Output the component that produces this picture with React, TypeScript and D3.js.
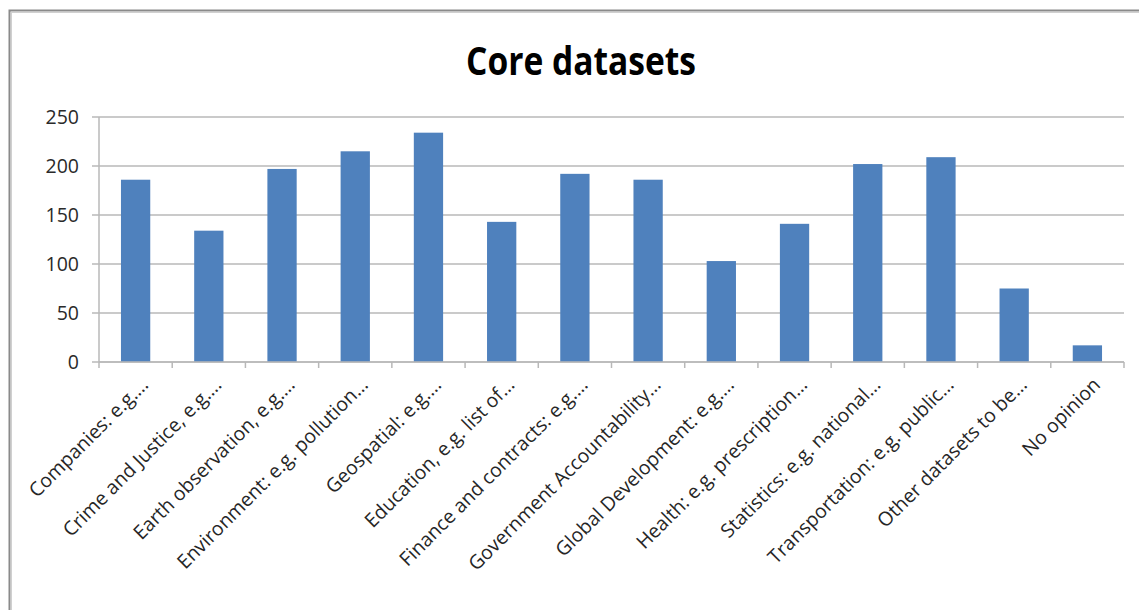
import React from "react";
import * as d3 from "d3";

const categories = [
  "Companies: e.g.…",
  "Crime and Justice, e.g.…",
  "Earth observation, e.g.…",
  "Environment: e.g. pollution…",
  "Geospatial: e.g.…",
  "Education, e.g. list of…",
  "Finance and contracts: e.g.…",
  "Government Accountability…",
  "Global Development: e.g.…",
  "Health: e.g. prescription…",
  "Statistics: e.g. national…",
  "Transportation: e.g. public…",
  "Other datasets to be…",
  "No opinion",
];
const values = [186, 134, 197, 215, 234, 143, 192, 186, 103, 141, 202, 209, 75, 17];
const yTicks = [0, 50, 100, 150, 200, 250];
const title = "Core datasets";

const W = 1139;
const H = 610;
const plot = { left: 99, right: 1124, top: 117, bottom: 362 };

export default function App() {
  const x = d3
    .scaleBand<string>()
    .domain(categories)
    .range([plot.left, plot.right])
    .paddingInner(0.6)
    .paddingOuter(0.3);
  const y = d3.scaleLinear().domain([0, 250]).range([plot.bottom, plot.top]);
  const bw = (plot.right - plot.left) / categories.length;
  const bandStart = (i: number) => plot.left + i * bw;
  const barW = x.bandwidth();

  return (
    <svg
      width={W}
      height={H}
      style={{ position: "absolute", left: 0, top: 0, background: "#fff" }}
    >
      <rect x={0} y={0} width={W} height={H} fill="#fff" />
      {/* frame */}
      <rect x={9.5} y={10.5} width={W + 20} height={H + 20} fill="none" stroke="#8a8a8a" strokeWidth={2} />
      <rect x={11.5} y={12.5} width={W + 20} height={H + 20} fill="none" stroke="#d0d0d0" strokeWidth={1} />

      <text
        x={581}
        y={75}
        textAnchor="middle"
        fontFamily="'Open Sans', sans-serif"
        fontWeight={700}
        fontSize={40}
        textLength={230}
        lengthAdjust="spacingAndGlyphs"
        fill="#000"
      >
        {title}
      </text>

      {/* gridlines + y ticks */}
      {yTicks.map((t) => (
        <g key={t}>
          <line x1={plot.left - 7} x2={plot.right} y1={y(t)} y2={y(t)} stroke="#b8b8b8" strokeWidth={1.5} />
          <text
            x={79}
            y={y(t)}
            dy="0.36em"
            textAnchor="end"
            fontFamily="'Open Sans', sans-serif"
            fontSize={19.5}
            fill="#2a2a2a"
          >
            {t}
          </text>
        </g>
      ))}
      {/* y axis */}
      <line x1={plot.left} x2={plot.left} y1={plot.top} y2={plot.bottom} stroke="#b8b8b8" strokeWidth={1.5} />

      {/* bars */}
      {values.map((v, i) => {
        const cx = bandStart(i) + bw / 2;
        return (
          <rect
            key={i}
            x={cx - barW / 2}
            y={y(v)}
            width={barW}
            height={y(0) - y(v)}
            fill="#4f81bd"
          />
        );
      })}

      {/* x axis */}
      <line x1={plot.left} x2={plot.right} y1={plot.bottom} y2={plot.bottom} stroke="#b8b8b8" strokeWidth={1.5} />
      {d3.range(categories.length + 1).map((i) => (
        <line
          key={i}
          x1={bandStart(i)}
          x2={bandStart(i)}
          y1={plot.bottom}
          y2={plot.bottom + 6}
          stroke="#b8b8b8"
          strokeWidth={1.5}
        />
      ))}

      {/* x labels */}
      {categories.map((c, i) => {
        const cx = bandStart(i) + bw / 2 + 14;
        const cy = plot.bottom + 24;
        return (
          <text
            key={c}
            x={cx}
            y={cy}
            textAnchor="end"
            transform={`rotate(-45 ${cx} ${cy})`}
            fontFamily="'Open Sans', sans-serif"
            fontSize={19.5}
            fill="#262626"
          >
            {c}
          </text>
        );
      })}
    </svg>
  );
}
